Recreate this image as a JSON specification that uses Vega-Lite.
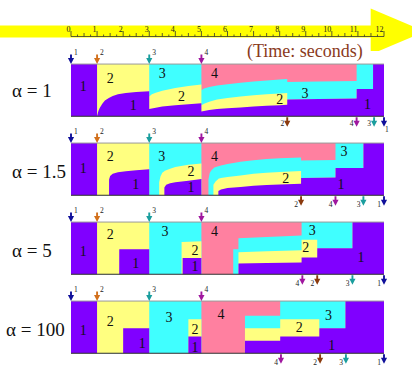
{
  "$schema": "https://vega.github.io/schema/vega-lite/v6.json",
  "padding": 0,
  "spacing": 0,
  "bounds": "flush",
  "background": "white",
  "config": {"view": {"stroke": null}, "text": {"font": "Liberation Serif"}},
  "resolve": {"scale": {"x": "independent", "y": "independent"}},
  "datasets": {
    "shares": [
      {"p":1,"t":0,"c1":1,"c2":1,"c3":1},{"p":1,"t":0.999,"c1":1,"c2":1,"c3":1},
      {"p":1,"t":1.0,"c1":0,"c2":1,"c3":1},{"p":1,"t":1.05,"c1":0.10,"c2":1,"c3":1},
      {"p":1,"t":1.1,"c1":0.16,"c2":1,"c3":1},{"p":1,"t":1.2,"c1":0.24,"c2":1,"c3":1},
      {"p":1,"t":1.3,"c1":0.30,"c2":1,"c3":1},{"p":1,"t":1.45,"c1":0.35,"c2":1,"c3":1},
      {"p":1,"t":1.6,"c1":0.39,"c2":1,"c3":1},{"p":1,"t":1.8,"c1":0.42,"c2":1,"c3":1},
      {"p":1,"t":2.1,"c1":0.445,"c2":1,"c3":1},{"p":1,"t":2.5,"c1":0.465,"c2":1,"c3":1},
      {"p":1,"t":2.999,"c1":0.48,"c2":1,"c3":1},
      {"p":1,"t":3.0,"c1":0.14,"c2":0.38,"c3":1},{"p":1,"t":3.1,"c1":0.15,"c2":0.42,"c3":1},
      {"p":1,"t":3.25,"c1":0.165,"c2":0.45,"c3":1},{"p":1,"t":3.5,"c1":0.185,"c2":0.49,"c3":1},
      {"p":1,"t":4.0,"c1":0.21,"c2":0.54,"c3":1},{"p":1,"t":4.5,"c1":0.23,"c2":0.58,"c3":1},
      {"p":1,"t":4.999,"c1":0.25,"c2":0.61,"c3":1},
      {"p":1,"t":5.0,"c1":0.09,"c2":0.21,"c3":0.50},{"p":1,"t":5.1,"c1":0.10,"c2":0.24,"c3":0.53},
      {"p":1,"t":5.3,"c1":0.12,"c2":0.28,"c3":0.56},{"p":1,"t":5.6,"c1":0.14,"c2":0.32,"c3":0.59},
      {"p":1,"t":6.0,"c1":0.155,"c2":0.35,"c3":0.615},{"p":1,"t":6.5,"c1":0.17,"c2":0.38,"c3":0.64},
      {"p":1,"t":7.0,"c1":0.185,"c2":0.40,"c3":0.665},{"p":1,"t":7.5,"c1":0.20,"c2":0.42,"c3":0.685},
      {"p":1,"t":8.0,"c1":0.21,"c2":0.435,"c3":0.705},{"p":1,"t":8.29,"c1":0.22,"c2":0.445,"c3":0.715},
      {"p":1,"t":8.291,"c1":0.32,"c2":0.32,"c3":0.655},{"p":1,"t":9.5,"c1":0.33,"c2":0.33,"c3":0.665},
      {"p":1,"t":10.95,"c1":0.34,"c2":0.34,"c3":0.675},{"p":1,"t":10.951,"c1":0.52,"c2":0.52,"c3":1},
      {"p":1,"t":11.58,"c1":0.52,"c2":0.52,"c3":1},{"p":1,"t":11.581,"c1":1,"c2":1,"c3":1},
      {"p":1,"t":12,"c1":1,"c2":1,"c3":1},

      {"p":2,"t":0,"c1":1,"c2":1,"c3":1},{"p":2,"t":0.999,"c1":1,"c2":1,"c3":1},
      {"p":2,"t":1.0,"c1":0,"c2":1,"c3":1},{"p":2,"t":1.459,"c1":0,"c2":1,"c3":1},
      {"p":2,"t":1.46,"c1":0.30,"c2":1,"c3":1},{"p":2,"t":1.5,"c1":0.37,"c2":1,"c3":1},
      {"p":2,"t":1.6,"c1":0.41,"c2":1,"c3":1},{"p":2,"t":1.8,"c1":0.44,"c2":1,"c3":1},
      {"p":2,"t":2.1,"c1":0.46,"c2":1,"c3":1},{"p":2,"t":2.5,"c1":0.48,"c2":1,"c3":1},
      {"p":2,"t":2.999,"c1":0.50,"c2":1,"c3":1},
      {"p":2,"t":3.0,"c1":0,"c2":0,"c3":1},{"p":2,"t":3.379,"c1":0,"c2":0,"c3":1},
      {"p":2,"t":3.38,"c1":0,"c2":0.25,"c3":1},{"p":2,"t":3.43,"c1":0,"c2":0.36,"c3":1},
      {"p":2,"t":3.5,"c1":0,"c2":0.43,"c3":1},{"p":2,"t":3.579,"c1":0,"c2":0.46,"c3":1},
      {"p":2,"t":3.58,"c1":0.15,"c2":0.465,"c3":1},{"p":2,"t":3.65,"c1":0.20,"c2":0.48,"c3":1},
      {"p":2,"t":3.8,"c1":0.23,"c2":0.51,"c3":1},{"p":2,"t":4.0,"c1":0.25,"c2":0.54,"c3":1},
      {"p":2,"t":4.5,"c1":0.28,"c2":0.585,"c3":1},{"p":2,"t":4.999,"c1":0.31,"c2":0.61,"c3":1},
      {"p":2,"t":5.0,"c1":0,"c2":0,"c3":0},{"p":2,"t":5.269,"c1":0,"c2":0,"c3":0},
      {"p":2,"t":5.27,"c1":0,"c2":0,"c3":0.30},{"p":2,"t":5.32,"c1":0,"c2":0,"c3":0.43},
      {"p":2,"t":5.4,"c1":0,"c2":0,"c3":0.49},{"p":2,"t":5.459,"c1":0,"c2":0,"c3":0.51},
      {"p":2,"t":5.46,"c1":0,"c2":0.20,"c3":0.52},{"p":2,"t":5.55,"c1":0,"c2":0.27,"c3":0.54},
      {"p":2,"t":5.649,"c1":0,"c2":0.31,"c3":0.555},{"p":2,"t":5.65,"c1":0.08,"c2":0.315,"c3":0.556},
      {"p":2,"t":5.75,"c1":0.11,"c2":0.33,"c3":0.57},{"p":2,"t":6.0,"c1":0.14,"c2":0.35,"c3":0.60},
      {"p":2,"t":6.5,"c1":0.16,"c2":0.38,"c3":0.64},{"p":2,"t":7.0,"c1":0.18,"c2":0.41,"c3":0.67},
      {"p":2,"t":7.5,"c1":0.195,"c2":0.43,"c3":0.695},{"p":2,"t":8.0,"c1":0.205,"c2":0.445,"c3":0.71},
      {"p":2,"t":8.82,"c1":0.22,"c2":0.465,"c3":0.725},{"p":2,"t":8.821,"c1":0.33,"c2":0.33,"c3":0.665},
      {"p":2,"t":9.5,"c1":0.335,"c2":0.335,"c3":0.67},{"p":2,"t":10.14,"c1":0.34,"c2":0.34,"c3":0.675},
      {"p":2,"t":10.141,"c1":0.52,"c2":0.52,"c3":1},{"p":2,"t":11.21,"c1":0.52,"c2":0.52,"c3":1},
      {"p":2,"t":11.211,"c1":1,"c2":1,"c3":1},{"p":2,"t":12,"c1":1,"c2":1,"c3":1},

      {"p":3,"t":0,"c1":1,"c2":1,"c3":1},{"p":3,"t":0.999,"c1":1,"c2":1,"c3":1},
      {"p":3,"t":1.0,"c1":0,"c2":1,"c3":1},{"p":3,"t":1.849,"c1":0,"c2":1,"c3":1},
      {"p":3,"t":1.85,"c1":0.48,"c2":1,"c3":1},{"p":3,"t":2.999,"c1":0.48,"c2":1,"c3":1},
      {"p":3,"t":3.0,"c1":0,"c2":0,"c3":1},{"p":3,"t":4.239,"c1":0,"c2":0,"c3":1},
      {"p":3,"t":4.24,"c1":0,"c2":0.62,"c3":1},{"p":3,"t":4.279,"c1":0,"c2":0.62,"c3":1},
      {"p":3,"t":4.28,"c1":0.31,"c2":0.62,"c3":1},{"p":3,"t":4.999,"c1":0.31,"c2":0.63,"c3":1},
      {"p":3,"t":5.0,"c1":0,"c2":0,"c3":0},{"p":3,"t":6.219,"c1":0,"c2":0,"c3":0},
      {"p":3,"t":6.22,"c1":0,"c2":0,"c3":0.48},{"p":3,"t":6.419,"c1":0,"c2":0,"c3":0.48},
      {"p":3,"t":6.42,"c1":0.205,"c2":0.42,"c3":0.69},{"p":3,"t":7.5,"c1":0.215,"c2":0.44,"c3":0.715},
      {"p":3,"t":8.84,"c1":0.225,"c2":0.46,"c3":0.74},{"p":3,"t":8.841,"c1":0.32,"c2":0.66,"c3":1},
      {"p":3,"t":9.44,"c1":0.32,"c2":0.66,"c3":1},{"p":3,"t":9.441,"c1":0.50,"c2":0.50,"c3":1},
      {"p":3,"t":10.79,"c1":0.50,"c2":0.50,"c3":1},{"p":3,"t":10.791,"c1":1,"c2":1,"c3":1},
      {"p":3,"t":12,"c1":1,"c2":1,"c3":1},

      {"p":4,"t":0,"c1":1,"c2":1,"c3":1},{"p":4,"t":0.999,"c1":1,"c2":1,"c3":1},
      {"p":4,"t":1.0,"c1":0,"c2":1,"c3":1},{"p":4,"t":1.999,"c1":0,"c2":1,"c3":1},
      {"p":4,"t":2.0,"c1":0.48,"c2":1,"c3":1},{"p":4,"t":2.999,"c1":0.48,"c2":1,"c3":1},
      {"p":4,"t":3.0,"c1":0,"c2":0,"c3":1},{"p":4,"t":4.499,"c1":0,"c2":0,"c3":1},
      {"p":4,"t":4.5,"c1":0.32,"c2":0.65,"c3":1},{"p":4,"t":4.999,"c1":0.32,"c2":0.65,"c3":1},
      {"p":4,"t":5.0,"c1":0,"c2":0,"c3":0},{"p":4,"t":6.669,"c1":0,"c2":0,"c3":0},
      {"p":4,"t":6.67,"c1":0.24,"c2":0.48,"c3":0.72},{"p":4,"t":8.02,"c1":0.24,"c2":0.48,"c3":0.72},
      {"p":4,"t":8.021,"c1":0.32,"c2":0.65,"c3":1},{"p":4,"t":9.52,"c1":0.32,"c2":0.65,"c3":1},
      {"p":4,"t":9.521,"c1":0.48,"c2":0.48,"c3":1},{"p":4,"t":10.52,"c1":0.48,"c2":0.48,"c3":1},
      {"p":4,"t":10.521,"c1":1,"c2":1,"c3":1},{"p":4,"t":12,"c1":1,"c2":1,"c3":1}
    ],
    "arr": [{"job":1,"t":0},{"job":2,"t":1},{"job":3,"t":3},{"job":4,"t":5}],
    "dep": [
      {"p":1,"job":2,"t":8.29},{"p":1,"job":4,"t":10.95},{"p":1,"job":3,"t":11.62},{"p":1,"job":1,"t":12},
      {"p":2,"job":2,"t":8.82},{"p":2,"job":4,"t":10.14},{"p":2,"job":3,"t":11.21},{"p":2,"job":1,"t":12},
      {"p":3,"job":4,"t":8.87},{"p":3,"job":2,"t":9.44},{"p":3,"job":3,"t":10.79},{"p":3,"job":1,"t":12},
      {"p":4,"job":4,"t":8.05},{"p":4,"job":2,"t":9.55},{"p":4,"job":3,"t":10.54},{"p":4,"job":1,"t":12}
    ],
    "nums": [
      {"p":1,"t":0.47,"s":0.56,"n":"1"},{"p":1,"t":1.5,"s":0.72,"n":"2"},{"p":1,"t":2.39,"s":0.19,"n":"1"},
      {"p":1,"t":3.5,"s":0.81,"n":"3"},{"p":1,"t":4.24,"s":0.37,"n":"2"},{"p":1,"t":5.5,"s":0.81,"n":"4"},
      {"p":1,"t":8.97,"s":0.42,"n":"3"},{"p":1,"t":8.0,"s":0.31,"n":"2"},{"p":1,"t":11.37,"s":0.21,"n":"1"},
      {"p":2,"t":0.47,"s":0.50,"n":"1"},{"p":2,"t":1.5,"s":0.73,"n":"2"},{"p":2,"t":2.48,"s":0.19,"n":"1"},
      {"p":2,"t":3.48,"s":0.73,"n":"3"},{"p":2,"t":4.6,"s":0.45,"n":"2"},{"p":2,"t":4.6,"s":0.14,"n":"1"},
      {"p":2,"t":5.5,"s":0.73,"n":"4"},{"p":2,"t":8.23,"s":0.32,"n":"2"},{"p":2,"t":10.47,"s":0.83,"n":"3"},
      {"p":2,"t":10.35,"s":0.20,"n":"1"},
      {"p":3,"t":0.47,"s":0.42,"n":"1"},{"p":3,"t":1.5,"s":0.76,"n":"2"},{"p":3,"t":2.48,"s":0.19,"n":"1"},
      {"p":3,"t":3.6,"s":0.80,"n":"3"},{"p":3,"t":4.75,"s":0.45,"n":"2"},{"p":3,"t":4.75,"s":0.14,"n":"1"},
      {"p":3,"t":5.5,"s":0.80,"n":"4"},{"p":3,"t":9.25,"s":0.82,"n":"3"},{"p":3,"t":9.0,"s":0.50,"n":"2"},
      {"p":3,"t":11.12,"s":0.32,"n":"1"},
      {"p":4,"t":0.47,"s":0.42,"n":"1"},{"p":4,"t":1.5,"s":0.59,"n":"2"},{"p":4,"t":2.73,"s":0.18,"n":"1"},
      {"p":4,"t":3.76,"s":0.67,"n":"3"},{"p":4,"t":4.75,"s":0.45,"n":"2"},{"p":4,"t":4.75,"s":0.11,"n":"1"},
      {"p":4,"t":5.75,"s":0.74,"n":"4"},{"p":4,"t":8.75,"s":0.48,"n":"2"},{"p":4,"t":9.87,"s":0.72,"n":"3"},
      {"p":4,"t":10.0,"s":0.13,"n":"1"}
    ],
    "major": [{"t":0},{"t":1},{"t":2},{"t":3},{"t":4},{"t":5},{"t":6},{"t":7},{"t":8},{"t":9},{"t":10},{"t":11},{"t":12}],
    "half": [{"t":0.5},{"t":1.5},{"t":2.5},{"t":3.5},{"t":4.5},{"t":5.5},{"t":6.5},{"t":7.5},{"t":8.5},{"t":9.5},{"t":10.5},{"t":11.5}],
    "quarter": [{"t":0.25},{"t":0.75},{"t":1.25},{"t":1.75},{"t":2.25},{"t":2.75},{"t":3.25},{"t":3.75},{"t":4.25},{"t":4.75},{"t":5.25},{"t":5.75},{"t":6.25},{"t":6.75},{"t":7.25},{"t":7.75},{"t":8.25},{"t":8.75},{"t":9.25},{"t":9.75},{"t":10.25},{"t":10.75},{"t":11.25},{"t":11.75}]
  },
  "vconcat": [
    {
      "width": 412, "height": 51,
      "layer": [
        {"data": {"values": [{}]}, "mark": {"type": "rect", "color": "#ffff00"},
         "encoding": {"x": {"datum": -2.7221, "type": "quantitative", "scale": {"domain": [-2.7221, 13.0735], "nice": false, "zero": false}, "axis": null},
                      "x2": {"datum": 11.57},
                      "y": {"datum": 25.5, "type": "quantitative", "scale": {"domain": [0, 51], "reverse": true, "nice": false, "zero": false}, "axis": null},
                      "y2": {"datum": 37.5}}},
        {"data": {"values": [{}]}, "mark": {"type": "point", "shape": "M-1,-0.85L1,0L-1,0.85Z", "filled": true, "size": 2916, "color": "#ffff00", "opacity": 1, "clip": true},
         "encoding": {"x": {"datum": 12.525, "type": "quantitative"}, "y": {"datum": 31.5, "type": "quantitative"}}},
        {"data": {"values": [{}]}, "mark": {"type": "rule", "color": "#333333", "strokeWidth": 0.8},
         "encoding": {"x": {"datum": 0, "type": "quantitative"}, "x2": {"datum": 12}, "y": {"datum": 36.5, "type": "quantitative"}}},
        {"data": {"name": "major"}, "mark": {"type": "rule", "color": "#333333", "strokeWidth": 0.8},
         "encoding": {"x": {"field": "t", "type": "quantitative"}, "y": {"datum": 36.5, "type": "quantitative"}, "y2": {"datum": 31}}},
        {"data": {"name": "half"}, "mark": {"type": "rule", "color": "#333333", "strokeWidth": 0.8},
         "encoding": {"x": {"field": "t", "type": "quantitative"}, "y": {"datum": 36.5, "type": "quantitative"}, "y2": {"datum": 33}}},
        {"data": {"name": "quarter"}, "mark": {"type": "rule", "color": "#333333", "strokeWidth": 0.8},
         "encoding": {"x": {"field": "t", "type": "quantitative"}, "y": {"datum": 36.5, "type": "quantitative"}, "y2": {"datum": 34.5}}},
        {"data": {"name": "major"}, "mark": {"type": "text", "fontSize": 8, "align": "right", "baseline": "alphabetic", "dx": -0.5, "color": "#222222"},
         "encoding": {"x": {"field": "t", "type": "quantitative"}, "y": {"datum": 32.3, "type": "quantitative"}, "text": {"field": "t", "type": "nominal"}}},
        {"data": {"values": [{}]}, "mark": {"type": "text", "fontSize": 18, "align": "left", "baseline": "alphabetic", "color": "#8a3a1c", "text": "(Time: seconds)"},
         "encoding": {"x": {"datum": 6.748, "type": "quantitative"}, "y": {"datum": 56.5, "type": "quantitative"}}}
      ]
    },
    {
      "width": 412, "height": 78.3,
      "layer": [
        {"data": {"values": [{}]}, "mark": {"type": "rect", "color": "#ff80a0"},
         "encoding": {"x": {"datum": 0, "type": "quantitative", "scale": {"domain": [-2.7221, 13.0735], "nice": false, "zero": false}, "axis": null},
                      "x2": {"datum": 12},
                      "y": {"datum": 0, "type": "quantitative", "scale": {"domain": [-0.25, 1.25], "nice": false, "zero": false}, "axis": null},
                      "y2": {"datum": 1}}},
        {"data": {"name": "shares"}, "transform": [{"filter": "datum.p == 1"}], "mark": {"type": "area", "color": "#40ffff"},
         "encoding": {"x": {"field": "t", "type": "quantitative"}, "y": {"field": "c3", "type": "quantitative"}, "y2": {"datum": 0}}},
        {"data": {"name": "shares"}, "transform": [{"filter": "datum.p == 1"}], "mark": {"type": "area", "color": "#ffff80"},
         "encoding": {"x": {"field": "t", "type": "quantitative"}, "y": {"field": "c2", "type": "quantitative"}, "y2": {"datum": 0}}},
        {"data": {"name": "shares"}, "transform": [{"filter": "datum.p == 1"}], "mark": {"type": "area", "color": "#8000ff"},
         "encoding": {"x": {"field": "t", "type": "quantitative"}, "y": {"field": "c1", "type": "quantitative"}, "y2": {"datum": 0}}},
        {"data": {"values": [{}]}, "mark": {"type": "rule", "color": "#9a9a9a", "strokeWidth": 1},
         "encoding": {"x": {"datum": 0, "type": "quantitative"}, "x2": {"datum": 12}, "y": {"datum": 1, "type": "quantitative"}}},
        {"data": {"values": [{}]}, "mark": {"type": "rule", "color": "#333333", "strokeWidth": 1},
         "encoding": {"x": {"datum": 0, "type": "quantitative"}, "x2": {"datum": 12}, "y": {"datum": 0, "type": "quantitative"}}},
        {"data": {"name": "arr"}, "mark": {"type": "point", "shape": "M-0.2,-1L0.2,-1L0.2,-0.25L0.65,-0.25L0,1L-0.65,-0.25L-0.2,-0.25Z", "filled": true, "size": 90, "opacity": 1},
         "encoding": {"x": {"field": "t", "type": "quantitative"}, "y": {"datum": 1.092, "type": "quantitative"},
                      "color": {"field": "job", "type": "nominal", "scale": {"domain": [1,2,3,4], "range": ["#10109a","#d2701c","#1a9e9e","#a0179f"]}, "legend": null}}},
        {"data": {"name": "arr"}, "mark": {"type": "text", "fontSize": 7.5, "align": "left", "baseline": "middle", "dx": 3, "color": "#222222"},
         "encoding": {"x": {"field": "t", "type": "quantitative"}, "y": {"datum": 1.22, "type": "quantitative"}, "text": {"field": "job", "type": "nominal"}}},
        {"data": {"name": "dep"}, "transform": [{"filter": "datum.p == 1"}], "mark": {"type": "point", "shape": "M-0.2,-1L0.2,-1L0.2,-0.25L0.65,-0.25L0,1L-0.65,-0.25L-0.2,-0.25Z", "filled": true, "size": 90, "opacity": 1},
         "encoding": {"x": {"field": "t", "type": "quantitative"}, "y": {"datum": -0.11, "type": "quantitative"},
                      "fill": {"field": "job", "type": "nominal", "scale": {"domain": [1,2,3,4], "range": ["#10109a","#8b3a0e","#1a9e9e","#a0179f"]}, "legend": null}}},
        {"data": {"name": "dep"}, "transform": [{"filter": "datum.p == 1 && datum.job != 1"}], "mark": {"type": "text", "fontSize": 7.5, "align": "right", "baseline": "middle", "dx": -3, "color": "#222222"},
         "encoding": {"x": {"field": "t", "type": "quantitative"}, "y": {"datum": -0.15, "type": "quantitative"}, "text": {"field": "job", "type": "nominal"}}},
        {"data": {"name": "dep"}, "transform": [{"filter": "datum.p == 1 && datum.job == 1"}], "mark": {"type": "text", "fontSize": 7.5, "align": "left", "baseline": "middle", "dx": 1, "color": "#222222"},
         "encoding": {"x": {"field": "t", "type": "quantitative"}, "y": {"datum": -0.27, "type": "quantitative"}, "text": {"field": "job", "type": "nominal"}}},
        {"data": {"name": "nums"}, "transform": [{"filter": "datum.p == 1"}], "mark": {"type": "text", "fontSize": 14, "align": "center", "baseline": "middle", "color": "#111111"},
         "encoding": {"x": {"field": "t", "type": "quantitative"}, "y": {"field": "s", "type": "quantitative"}, "text": {"field": "n", "type": "nominal"}}},
        {"data": {"values": [{}]}, "mark": {"type": "text", "fontSize": 19, "align": "left", "baseline": "alphabetic", "color": "#111111", "text": "α = 1"},
         "encoding": {"x": {"datum": -2.262, "type": "quantitative"}, "y": {"datum": 0.36, "type": "quantitative"}}}
      ]
    },
    {
      "width": 412, "height": 78.3,
      "layer": [
        {"data": {"values": [{}]}, "mark": {"type": "rect", "color": "#ff80a0"},
         "encoding": {"x": {"datum": 0, "type": "quantitative", "scale": {"domain": [-2.7221, 13.0735], "nice": false, "zero": false}, "axis": null},
                      "x2": {"datum": 12},
                      "y": {"datum": 0, "type": "quantitative", "scale": {"domain": [-0.25, 1.25], "nice": false, "zero": false}, "axis": null},
                      "y2": {"datum": 1}}},
        {"data": {"name": "shares"}, "transform": [{"filter": "datum.p == 2"}], "mark": {"type": "area", "color": "#40ffff"},
         "encoding": {"x": {"field": "t", "type": "quantitative"}, "y": {"field": "c3", "type": "quantitative"}, "y2": {"datum": 0}}},
        {"data": {"name": "shares"}, "transform": [{"filter": "datum.p == 2"}], "mark": {"type": "area", "color": "#ffff80"},
         "encoding": {"x": {"field": "t", "type": "quantitative"}, "y": {"field": "c2", "type": "quantitative"}, "y2": {"datum": 0}}},
        {"data": {"name": "shares"}, "transform": [{"filter": "datum.p == 2"}], "mark": {"type": "area", "color": "#8000ff"},
         "encoding": {"x": {"field": "t", "type": "quantitative"}, "y": {"field": "c1", "type": "quantitative"}, "y2": {"datum": 0}}},
        {"data": {"values": [{}]}, "mark": {"type": "rule", "color": "#9a9a9a", "strokeWidth": 1},
         "encoding": {"x": {"datum": 0, "type": "quantitative"}, "x2": {"datum": 12}, "y": {"datum": 1, "type": "quantitative"}}},
        {"data": {"values": [{}]}, "mark": {"type": "rule", "color": "#333333", "strokeWidth": 1},
         "encoding": {"x": {"datum": 0, "type": "quantitative"}, "x2": {"datum": 12}, "y": {"datum": 0, "type": "quantitative"}}},
        {"data": {"name": "arr"}, "mark": {"type": "point", "shape": "M-0.2,-1L0.2,-1L0.2,-0.25L0.65,-0.25L0,1L-0.65,-0.25L-0.2,-0.25Z", "filled": true, "size": 90, "opacity": 1},
         "encoding": {"x": {"field": "t", "type": "quantitative"}, "y": {"datum": 1.092, "type": "quantitative"},
                      "color": {"field": "job", "type": "nominal", "scale": {"domain": [1,2,3,4], "range": ["#10109a","#d2701c","#1a9e9e","#a0179f"]}, "legend": null}}},
        {"data": {"name": "arr"}, "mark": {"type": "text", "fontSize": 7.5, "align": "left", "baseline": "middle", "dx": 3, "color": "#222222"},
         "encoding": {"x": {"field": "t", "type": "quantitative"}, "y": {"datum": 1.22, "type": "quantitative"}, "text": {"field": "job", "type": "nominal"}}},
        {"data": {"name": "dep"}, "transform": [{"filter": "datum.p == 2"}], "mark": {"type": "point", "shape": "M-0.2,-1L0.2,-1L0.2,-0.25L0.65,-0.25L0,1L-0.65,-0.25L-0.2,-0.25Z", "filled": true, "size": 90, "opacity": 1},
         "encoding": {"x": {"field": "t", "type": "quantitative"}, "y": {"datum": -0.11, "type": "quantitative"},
                      "fill": {"field": "job", "type": "nominal", "scale": {"domain": [1,2,3,4], "range": ["#10109a","#8b3a0e","#1a9e9e","#a0179f"]}, "legend": null}}},
        {"data": {"name": "dep"}, "transform": [{"filter": "datum.p == 2"}], "mark": {"type": "text", "fontSize": 7.5, "align": "right", "baseline": "middle", "dx": -3, "color": "#222222"},
         "encoding": {"x": {"field": "t", "type": "quantitative"}, "y": {"datum": -0.18, "type": "quantitative"}, "text": {"field": "job", "type": "nominal"}}},
        {"data": {"name": "nums"}, "transform": [{"filter": "datum.p == 2"}], "mark": {"type": "text", "fontSize": 14, "align": "center", "baseline": "middle", "color": "#111111"},
         "encoding": {"x": {"field": "t", "type": "quantitative"}, "y": {"field": "s", "type": "quantitative"}, "text": {"field": "n", "type": "nominal"}}},
        {"data": {"values": [{}]}, "mark": {"type": "text", "fontSize": 19, "align": "left", "baseline": "alphabetic", "color": "#111111", "text": "α = 1.5"},
         "encoding": {"x": {"datum": -2.262, "type": "quantitative"}, "y": {"datum": 0.34, "type": "quantitative"}}}
      ]
    },
    {
      "width": 412, "height": 78.3,
      "layer": [
        {"data": {"values": [{}]}, "mark": {"type": "rect", "color": "#ff80a0"},
         "encoding": {"x": {"datum": 0, "type": "quantitative", "scale": {"domain": [-2.7221, 13.0735], "nice": false, "zero": false}, "axis": null},
                      "x2": {"datum": 12},
                      "y": {"datum": 0, "type": "quantitative", "scale": {"domain": [-0.25, 1.25], "nice": false, "zero": false}, "axis": null},
                      "y2": {"datum": 1}}},
        {"data": {"name": "shares"}, "transform": [{"filter": "datum.p == 3"}], "mark": {"type": "area", "color": "#40ffff"},
         "encoding": {"x": {"field": "t", "type": "quantitative"}, "y": {"field": "c3", "type": "quantitative"}, "y2": {"datum": 0}}},
        {"data": {"name": "shares"}, "transform": [{"filter": "datum.p == 3"}], "mark": {"type": "area", "color": "#ffff80"},
         "encoding": {"x": {"field": "t", "type": "quantitative"}, "y": {"field": "c2", "type": "quantitative"}, "y2": {"datum": 0}}},
        {"data": {"name": "shares"}, "transform": [{"filter": "datum.p == 3"}], "mark": {"type": "area", "color": "#8000ff"},
         "encoding": {"x": {"field": "t", "type": "quantitative"}, "y": {"field": "c1", "type": "quantitative"}, "y2": {"datum": 0}}},
        {"data": {"values": [{}]}, "mark": {"type": "rule", "color": "#9a9a9a", "strokeWidth": 1},
         "encoding": {"x": {"datum": 0, "type": "quantitative"}, "x2": {"datum": 12}, "y": {"datum": 1, "type": "quantitative"}}},
        {"data": {"values": [{}]}, "mark": {"type": "rule", "color": "#333333", "strokeWidth": 1},
         "encoding": {"x": {"datum": 0, "type": "quantitative"}, "x2": {"datum": 12}, "y": {"datum": 0, "type": "quantitative"}}},
        {"data": {"name": "arr"}, "mark": {"type": "point", "shape": "M-0.2,-1L0.2,-1L0.2,-0.25L0.65,-0.25L0,1L-0.65,-0.25L-0.2,-0.25Z", "filled": true, "size": 90, "opacity": 1},
         "encoding": {"x": {"field": "t", "type": "quantitative"}, "y": {"datum": 1.092, "type": "quantitative"},
                      "color": {"field": "job", "type": "nominal", "scale": {"domain": [1,2,3,4], "range": ["#10109a","#d2701c","#1a9e9e","#a0179f"]}, "legend": null}}},
        {"data": {"name": "arr"}, "mark": {"type": "text", "fontSize": 7.5, "align": "left", "baseline": "middle", "dx": 3, "color": "#222222"},
         "encoding": {"x": {"field": "t", "type": "quantitative"}, "y": {"datum": 1.22, "type": "quantitative"}, "text": {"field": "job", "type": "nominal"}}},
        {"data": {"name": "dep"}, "transform": [{"filter": "datum.p == 3"}], "mark": {"type": "point", "shape": "M-0.2,-1L0.2,-1L0.2,-0.25L0.65,-0.25L0,1L-0.65,-0.25L-0.2,-0.25Z", "filled": true, "size": 90, "opacity": 1},
         "encoding": {"x": {"field": "t", "type": "quantitative"}, "y": {"datum": -0.11, "type": "quantitative"},
                      "fill": {"field": "job", "type": "nominal", "scale": {"domain": [1,2,3,4], "range": ["#10109a","#8b3a0e","#1a9e9e","#a0179f"]}, "legend": null}}},
        {"data": {"name": "dep"}, "transform": [{"filter": "datum.p == 3"}], "mark": {"type": "text", "fontSize": 7.5, "align": "right", "baseline": "middle", "dx": -3, "color": "#222222"},
         "encoding": {"x": {"field": "t", "type": "quantitative"}, "y": {"datum": -0.19, "type": "quantitative"}, "text": {"field": "job", "type": "nominal"}}},
        {"data": {"name": "nums"}, "transform": [{"filter": "datum.p == 3"}], "mark": {"type": "text", "fontSize": 14, "align": "center", "baseline": "middle", "color": "#111111"},
         "encoding": {"x": {"field": "t", "type": "quantitative"}, "y": {"field": "s", "type": "quantitative"}, "text": {"field": "n", "type": "nominal"}}},
        {"data": {"values": [{}]}, "mark": {"type": "text", "fontSize": 19, "align": "left", "baseline": "alphabetic", "color": "#111111", "text": "α = 5"},
         "encoding": {"x": {"datum": -2.262, "type": "quantitative"}, "y": {"datum": 0.34, "type": "quantitative"}}}
      ]
    },
    {
      "width": 412, "height": 78.3,
      "layer": [
        {"data": {"values": [{}]}, "mark": {"type": "rect", "color": "#ff80a0"},
         "encoding": {"x": {"datum": 0, "type": "quantitative", "scale": {"domain": [-2.7221, 13.0735], "nice": false, "zero": false}, "axis": null},
                      "x2": {"datum": 12},
                      "y": {"datum": 0, "type": "quantitative", "scale": {"domain": [-0.25, 1.25], "nice": false, "zero": false}, "axis": null},
                      "y2": {"datum": 1}}},
        {"data": {"name": "shares"}, "transform": [{"filter": "datum.p == 4"}], "mark": {"type": "area", "color": "#40ffff"},
         "encoding": {"x": {"field": "t", "type": "quantitative"}, "y": {"field": "c3", "type": "quantitative"}, "y2": {"datum": 0}}},
        {"data": {"name": "shares"}, "transform": [{"filter": "datum.p == 4"}], "mark": {"type": "area", "color": "#ffff80"},
         "encoding": {"x": {"field": "t", "type": "quantitative"}, "y": {"field": "c2", "type": "quantitative"}, "y2": {"datum": 0}}},
        {"data": {"name": "shares"}, "transform": [{"filter": "datum.p == 4"}], "mark": {"type": "area", "color": "#8000ff"},
         "encoding": {"x": {"field": "t", "type": "quantitative"}, "y": {"field": "c1", "type": "quantitative"}, "y2": {"datum": 0}}},
        {"data": {"values": [{}]}, "mark": {"type": "rule", "color": "#9a9a9a", "strokeWidth": 1},
         "encoding": {"x": {"datum": 0, "type": "quantitative"}, "x2": {"datum": 12}, "y": {"datum": 1, "type": "quantitative"}}},
        {"data": {"values": [{}]}, "mark": {"type": "rule", "color": "#333333", "strokeWidth": 1},
         "encoding": {"x": {"datum": 0, "type": "quantitative"}, "x2": {"datum": 12}, "y": {"datum": 0, "type": "quantitative"}}},
        {"data": {"name": "arr"}, "mark": {"type": "point", "shape": "M-0.2,-1L0.2,-1L0.2,-0.25L0.65,-0.25L0,1L-0.65,-0.25L-0.2,-0.25Z", "filled": true, "size": 90, "opacity": 1},
         "encoding": {"x": {"field": "t", "type": "quantitative"}, "y": {"datum": 1.092, "type": "quantitative"},
                      "color": {"field": "job", "type": "nominal", "scale": {"domain": [1,2,3,4], "range": ["#10109a","#d2701c","#1a9e9e","#a0179f"]}, "legend": null}}},
        {"data": {"name": "arr"}, "mark": {"type": "text", "fontSize": 7.5, "align": "left", "baseline": "middle", "dx": 3, "color": "#222222"},
         "encoding": {"x": {"field": "t", "type": "quantitative"}, "y": {"datum": 1.22, "type": "quantitative"}, "text": {"field": "job", "type": "nominal"}}},
        {"data": {"name": "dep"}, "transform": [{"filter": "datum.p == 4"}], "mark": {"type": "point", "shape": "M-0.2,-1L0.2,-1L0.2,-0.25L0.65,-0.25L0,1L-0.65,-0.25L-0.2,-0.25Z", "filled": true, "size": 90, "opacity": 1},
         "encoding": {"x": {"field": "t", "type": "quantitative"}, "y": {"datum": -0.11, "type": "quantitative"},
                      "fill": {"field": "job", "type": "nominal", "scale": {"domain": [1,2,3,4], "range": ["#10109a","#8b3a0e","#1a9e9e","#a0179f"]}, "legend": null}}},
        {"data": {"name": "dep"}, "transform": [{"filter": "datum.p == 4"}], "mark": {"type": "text", "fontSize": 7.5, "align": "right", "baseline": "middle", "dx": -3, "color": "#222222"},
         "encoding": {"x": {"field": "t", "type": "quantitative"}, "y": {"datum": -0.19, "type": "quantitative"}, "text": {"field": "job", "type": "nominal"}}},
        {"data": {"name": "nums"}, "transform": [{"filter": "datum.p == 4"}], "mark": {"type": "text", "fontSize": 14, "align": "center", "baseline": "middle", "color": "#111111"},
         "encoding": {"x": {"field": "t", "type": "quantitative"}, "y": {"field": "s", "type": "quantitative"}, "text": {"field": "n", "type": "nominal"}}},
        {"data": {"values": [{}]}, "mark": {"type": "text", "fontSize": 19, "align": "left", "baseline": "alphabetic", "color": "#111111", "text": "α = 100"},
         "encoding": {"x": {"datum": -2.492, "type": "quantitative"}, "y": {"datum": 0.335, "type": "quantitative"}}}
      ]
    }
  ]
}
